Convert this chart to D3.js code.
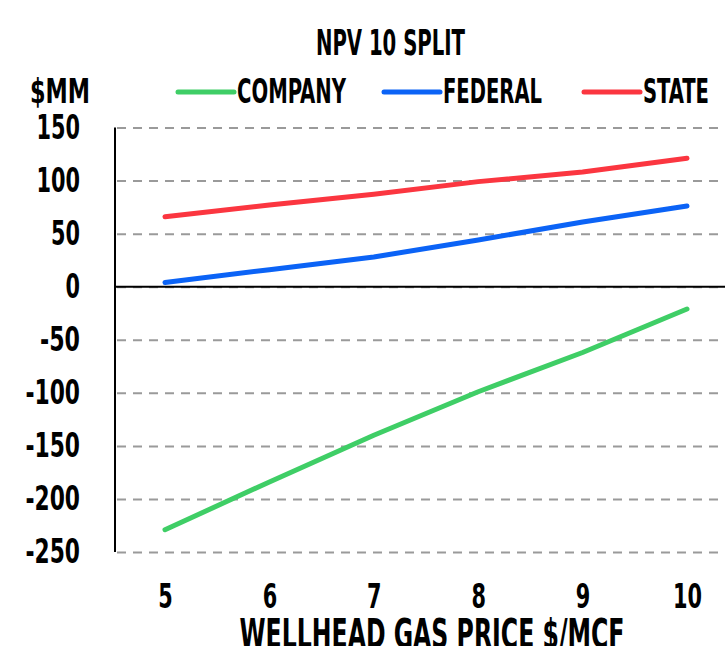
<!DOCTYPE html>
<html>
<head>
<meta charset="utf-8">
<script src="https://cdn.jsdelivr.net/npm/d3@7"></script>
<style>
  body { margin: 0; background: #fff; }
  svg text { font-family: "Liberation Sans Narrow", "DejaVu Sans Condensed", "DejaVu Sans", sans-serif; font-weight: bold; fill: #000; }
</style>
</head>
<body>
<svg id="chart"></svg>
<script>
// Chart data
const prices = [5, 6, 7, 8, 9, 10];
const company = [-229, -184, -140, -99, -62, -21];
const federal = [4, 16, 28, 44, 61, 76];
const state = [66, 77, 87, 99, 108, 121];
const yTicks = [150, 100, 50, 0, -50, -100, -150, -200, -250];
const seriesNames = ["COMPANY", "FEDERAL", "STATE"];

const width = 725;
const height = 646;

const colors = { COMPANY: "#3fce66", FEDERAL: "#0b63f6", STATE: "#fb3640" };
const series = [
  { name: "COMPANY", values: company },
  { name: "FEDERAL", values: federal },
  { name: "STATE", values: state }
];

// Narrow width for the condensed label look
const labelWidth = (s) => s.replace(/-/g, "").length * 14.5 + (s.includes("-") ? 11 : 0);

const svg = d3.select("#chart").attr("width", width).attr("height", height);

// Scales
const xScale = d3.scaleLinear().domain([5, 10]).range([165, 687]);
const yScale = d3.scaleLinear().domain([-250, 150]).range([552, 127.5]);

// Dashed grid lines
const grid = svg
  .append("g")
  .attr("transform", "translate(115,0)")
  .call(d3.axisLeft(yScale).tickValues(yTicks).tickSize(-(width - 115)).tickFormat(""));
grid.select(".domain").remove();
grid
  .selectAll(".tick line")
  .attr("stroke", "#9a9a9a")
  .attr("stroke-width", 2)
  .attr("stroke-dasharray", "9,7")
  .attr("stroke-dashoffset", -2);

// Zero line
svg
  .append("line")
  .attr("x1", 115)
  .attr("x2", width)
  .attr("y1", yScale(0))
  .attr("y2", yScale(0))
  .attr("stroke", "#000")
  .attr("stroke-width", 2);

// Y axis line
svg
  .append("line")
  .attr("x1", 115)
  .attr("x2", 115)
  .attr("y1", yScale(150))
  .attr("y2", yScale(-250))
  .attr("stroke", "#000")
  .attr("stroke-width", 2);

// Y tick labels
const yAxis = svg
  .append("g")
  .attr("transform", "translate(115,0)")
  .call(d3.axisLeft(yScale).tickValues(yTicks).tickSize(0).tickPadding(35).tickFormat((d) => String(d)));
yAxis.select(".domain").remove();
yAxis
  .selectAll("text")
  .attr("font-size", 34)
  .attr("textLength", (d) => labelWidth(String(d)))
  .attr("lengthAdjust", "spacingAndGlyphs");

// X tick labels
const xAxis = svg
  .append("g")
  .attr("transform", "translate(0,552)")
  .call(d3.axisBottom(xScale).tickValues(prices).tickSize(0).tickPadding(32).tickFormat((d) => String(d)));
xAxis.select(".domain").remove();
xAxis
  .selectAll("text")
  .attr("font-size", 34)
  .attr("textLength", (d) => labelWidth(String(d)))
  .attr("lengthAdjust", "spacingAndGlyphs");

// Lines
const line = d3
  .line()
  .x((d, i) => xScale(prices[i]))
  .y((d) => yScale(d));

svg
  .selectAll(".series")
  .data(series)
  .enter()
  .append("path")
  .attr("class", "series")
  .attr("d", (d) => line(d.values))
  .attr("fill", "none")
  .attr("stroke", (d) => colors[d.name])
  .attr("stroke-width", 5)
  .attr("stroke-linecap", "round")
  .attr("stroke-linejoin", "round");

// Title
svg
  .append("text")
  .attr("x", 390.5)
  .attr("y", 55)
  .attr("text-anchor", "middle")
  .attr("font-size", 35)
  .attr("textLength", 149)
  .attr("lengthAdjust", "spacingAndGlyphs")
  .text("NPV 10 SPLIT");

// Unit label
svg
  .append("text")
  .attr("x", 30)
  .attr("y", 103)
  .attr("font-size", 34)
  .attr("textLength", 60)
  .attr("lengthAdjust", "spacingAndGlyphs")
  .text("$MM");

// Legend
const legendX = [178, 384, 584];
const legendW = [109, 99, 66];
const legend = svg
  .selectAll(".legend")
  .data(seriesNames)
  .enter()
  .append("g")
  .attr("class", "legend")
  .attr("transform", (d, i) => "translate(" + legendX[i] + ",92)");

legend
  .append("line")
  .attr("x1", 0)
  .attr("x2", 56)
  .attr("stroke", (d) => colors[d])
  .attr("stroke-width", 5)
  .attr("stroke-linecap", "round");

legend
  .append("text")
  .attr("x", 59)
  .attr("y", 11)
  .attr("font-size", 34)
  .attr("textLength", (d, i) => legendW[i])
  .attr("lengthAdjust", "spacingAndGlyphs")
  .text((d) => d);

// X axis title
svg
  .append("text")
  .attr("x", 432)
  .attr("y", 648)
  .attr("text-anchor", "middle")
  .attr("font-size", 40)
  .attr("textLength", 385)
  .attr("lengthAdjust", "spacingAndGlyphs")
  .text("WELLHEAD GAS PRICE $/MCF");
</script>
</body>
</html>
